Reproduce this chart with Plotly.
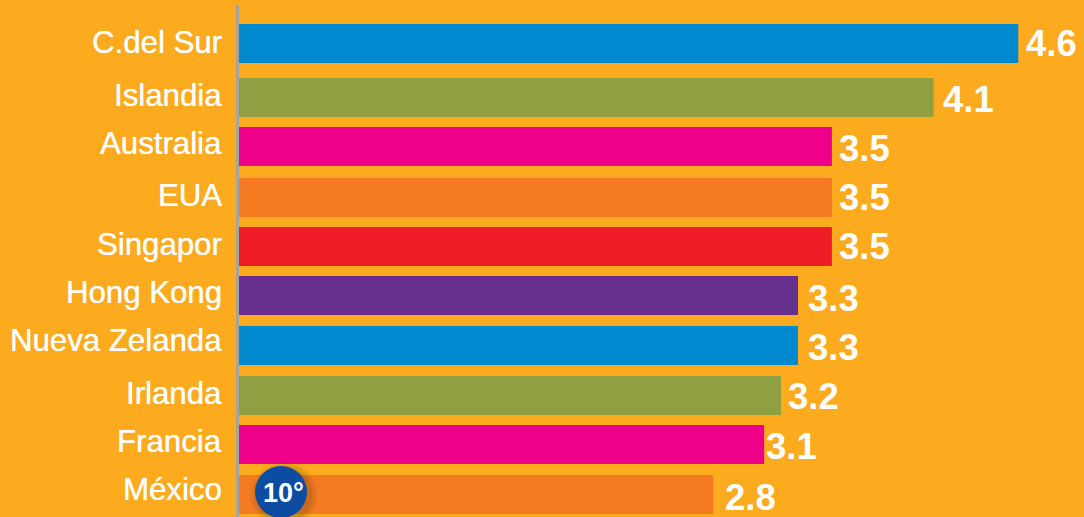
import plotly.graph_objects as go

countries = ["C.del Sur", "Islandia", "Australia", "EUA", "Singapor", "Hong Kong",
             "Nueva Zelanda", "Irlanda", "Francia", "México"]
values = [4.6, 4.1, 3.5, 3.5, 3.5, 3.3, 3.3, 3.2, 3.1, 2.8]
value_labels = ["4.6", "4.1", "3.5", "3.5", "3.5", "3.3", "3.3", "3.2", "3.1", "2.8"]
bar_colors = ["#0089CF", "#8F9F42", "#EE008B", "#F57B22", "#EE1C25", "#662F8E",
              "#0089CF", "#8F9F42", "#EE008B", "#F57B22"]
badge_text = "10°"

BG = "#FCAB1E"
W, H = 1084, 517
PX_X0 = 239
PX_PER_UNIT = 169.4
SLOT = 50.11
Y0 = 43.5

bar_shift_px = [0, 3.9, 2.8, 3.7, 2.6, 1.5, 1.4, 1.3, 0.2, 0]
label_shift_px = [-1, 2, 0, 2, 1, -2, -4, -1, -3, -5]
value_shift_px = [0, 2, 2, 0, 0, 3, 2, 1, 2, 3]
value_xshift_px = [6, 7, 5, 5, 5, 8, 8, 5, 0, 10]
bar_w = 39 / SLOT

fig = go.Figure(go.Bar(
    x=values, y=countries, orientation="h",
    marker=dict(color=bar_colors, line_width=0),
    width=bar_w,
    offset=[-bar_w / 2 + s / SLOT for s in bar_shift_px],
    hoverinfo="skip",
))

ann = []
for i, c in enumerate(countries):
    ann.append(dict(x=0, y=c, xref="x", yref="y", text=c, showarrow=False,
                    xanchor="right", yanchor="middle",
                    xshift=-15, yshift=-label_shift_px[i],
                    font=dict(family="Liberation Sans", size=31.2, color="white",
                              shadow="0 0 0.7px white")))
    ann.append(dict(x=values[i], y=c, xref="x", yref="y", text=value_labels[i], showarrow=False,
                    xanchor="left", yanchor="middle",
                    xshift=value_xshift_px[i],
                    yshift=-(value_shift_px[i] + bar_shift_px[i]),
                    font=dict(family="Liberation Sans", size=36.5, color="white", weight="bold")))


def px_x(p):
    return p / W


def px_y(p):
    return 1 - p / H


shapes = [dict(type="rect", xref="paper", yref="paper", x0=px_x(236), x1=px_x(239),
               y0=px_y(5), y1=px_y(517), fillcolor="#A9A49A", line_width=0, layer="above")]
for grow, op in [(8, 0.05), (6, 0.06), (4, 0.08), (2, 0.10)]:
    shapes.append(dict(type="circle", xref="paper", yref="paper",
                       x0=px_x(255 + 3 - grow), x1=px_x(307 + 3 + grow),
                       y0=px_y(466 + 3 - grow), y1=px_y(518 + 3 + grow),
                       fillcolor="#5A3A10", opacity=op, line_width=0, layer="above"))
shapes.append(dict(type="circle", xref="paper", yref="paper",
                   x0=px_x(255), x1=px_x(307), y0=px_y(466), y1=px_y(518),
                   fillcolor="#0C4DA2", line_width=0, layer="above"))
ann.append(dict(xref="paper", yref="paper", x=px_x(283), y=px_y(493), text=badge_text,
                showarrow=False, xanchor="center", yanchor="middle",
                font=dict(family="Liberation Sans", size=27, color="white", weight="bold")))

fig.update_layout(
    width=W, height=H, autosize=False,
    margin=dict(l=0, r=0, t=0, b=0),
    paper_bgcolor=BG, plot_bgcolor=BG,
    showlegend=False,
    annotations=ann, shapes=shapes,
    xaxis=dict(domain=[PX_X0 / W, 1], range=[0, (W - PX_X0) / PX_PER_UNIT],
               visible=False, fixedrange=True),
    yaxis=dict(type="category", categoryorder="array", categoryarray=countries,
               range=[(H - Y0) / SLOT, (0 - Y0) / SLOT],
               visible=False, fixedrange=True),
)
fig.write_html("out.html", config={"displayModeBar": False},
               post_script="document.body.style.margin='0';document.body.style.overflow='hidden';")
